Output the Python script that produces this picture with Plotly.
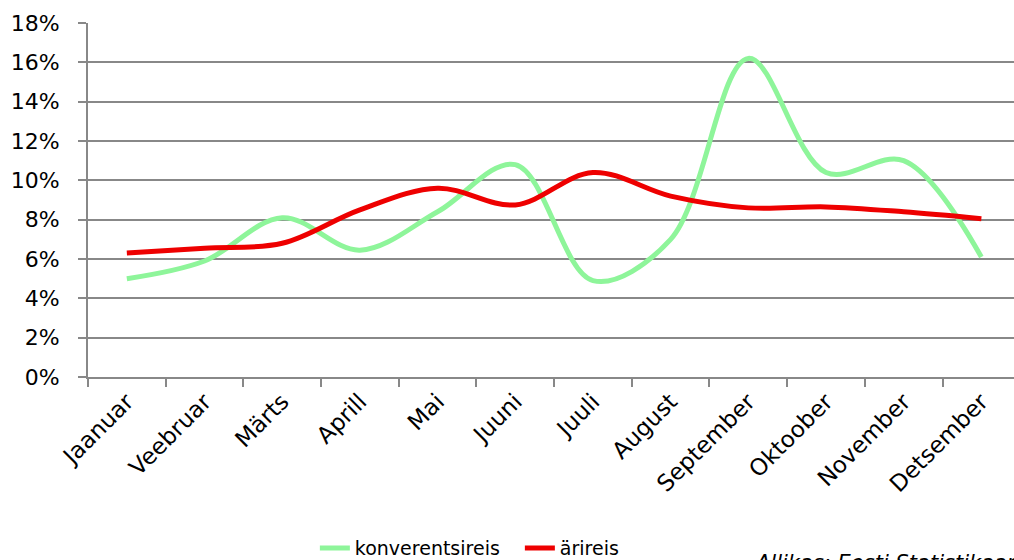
import plotly.graph_objects as go

months = ["Jaanuar", "Veebruar", "Märts", "Aprill", "Mai", "Juuni",
          "Juuli", "August", "September", "Oktoober", "November", "Detsember"]
konverentsireis = [5.0, 5.9, 8.1, 6.45, 8.4, 10.8, 4.9, 7.0, 16.2, 10.4, 11.0, 6.1]
arireis = [6.3, 6.55, 6.8, 8.5, 9.6, 8.75, 10.4, 9.2, 8.6, 8.65, 8.4, 8.05]
y_ticks = [0, 2, 4, 6, 8, 10, 12, 14, 16, 18]

font = "DejaVu Sans, Verdana, sans-serif"

fig = go.Figure()
fig.add_trace(go.Scatter(
    x=months, y=konverentsireis, name="konverentsireis", mode="lines",
    line=dict(color="#8ef59a", width=5, shape="spline", smoothing=1.0),
))
fig.add_trace(go.Scatter(
    x=months, y=arireis, name="ärireis", mode="lines",
    line=dict(color="#ee0000", width=5, shape="spline", smoothing=1.0),
))

fig.update_layout(
    width=1014, height=560,
    margin=dict(l=88, r=0, t=23, b=183, autoexpand=False),
    plot_bgcolor="white", paper_bgcolor="white",
    font=dict(family=font, size=22, color="black"),
    showlegend=True,
    legend=dict(orientation="h", x=0.245, y=-0.43, xanchor="left", yanchor="top",
                font=dict(size=19), bgcolor="rgba(0,0,0,0)", entrywidth=160),
    annotations=[dict(
        text="<i>Allikas: Eesti Statistikaamet</i>", xref="paper", yref="paper",
        x=0.717, y=-0.487, xanchor="left", yanchor="top", showarrow=False,
        font=dict(size=21, color="black"),
    )],
)

fig.update_yaxes(
    range=[0, 18], tickvals=y_ticks, ticktext=[f"{v}%" for v in y_ticks],
    showgrid=True, gridcolor="#888888", gridwidth=2,
    showline=True, linecolor="#888888", linewidth=2,
    ticks="outside", ticklen=8, tickcolor="#888888", tickwidth=2,
    ticklabelstandoff=14,
    zeroline=False, fixedrange=True, automargin=False,
)
fig.update_xaxes(
    range=[-0.5, 11.42], tickangle=-45, tickson="boundaries",
    tickfont=dict(size=23),
    showgrid=False, showline=True, linecolor="#888888", linewidth=2,
    ticks="outside", ticklen=8, tickcolor="#888888", tickwidth=2,
    fixedrange=True, automargin=False,
)

# page body has a default 8px margin, drop it so the figure sits at (0, 0)
fig.write_html("out.html", config={"displayModeBar": False},
               post_script="document.body.style.margin='0';"
                           "document.body.style.overflow='hidden';")
